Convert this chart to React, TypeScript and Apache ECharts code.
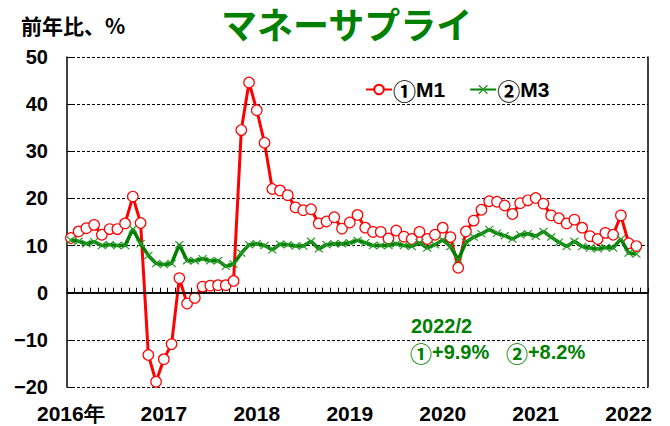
import React, { useEffect, useRef } from "react";
import * as echarts from "echarts";

const months: string[] = [];
for (let y = 2016; y <= 2022; y++) {
  for (let m = 1; m <= 12; m++) {
    if (y === 2022 && m > 3) break;
    months.push(`${y}/${m}`);
  }
}

const m1Values = [
  11.6, 13.0, 13.7, 14.4, 12.3, 13.5, 13.5, 14.7, 20.4, 14.8, -13.2, -18.9,
  -14.1, -10.9, 3.1, -2.3, -1.1, 1.3, 1.5, 1.6, 1.6, 2.5, 34.5, 44.6,
  38.7, 31.8, 22.0, 21.7, 20.7, 18.1, 17.5, 17.7, 14.7, 15.1, 16.0, 13.6,
  14.9, 16.5, 13.8, 12.9, 12.9, 11.5, 13.2, 11.9, 11.4, 12.9, 11.4, 12.3,
  13.8, 11.8, 5.3, 13.0, 15.3, 17.6, 19.4, 19.3, 18.5, 16.7, 19.0, 19.6,
  20.1, 18.9, 16.4, 15.8, 14.7, 15.5, 13.8, 12.0, 11.4, 12.7, 12.3, 16.4,
  10.5, 9.9,
];

const m3Values = [
  11.2, 10.9, 10.4, 10.8, 10.0, 10.2, 10.0, 10.0, 13.5, 10.4, 7.9, 6.2,
  6.0, 6.2, 10.2, 6.8, 6.8, 7.2, 6.8, 6.8, 5.6, 6.1, 8.4, 10.2,
  10.4, 10.0, 9.1, 10.3, 10.2, 9.9, 9.9, 10.9, 9.3, 10.2, 10.4, 10.4,
  10.6, 11.1, 10.6, 10.0, 10.0, 10.0, 10.4, 10.0, 9.8, 10.6, 9.5, 10.2,
  11.2, 9.8, 7.0, 10.7, 11.8, 12.5, 13.4, 12.6, 12.1, 11.4, 12.3, 12.5,
  12.0, 13.0, 11.8, 10.7, 9.8, 10.9, 9.8, 9.5, 9.3, 9.6, 9.5, 11.4,
  8.4, 8.2,
];

const seriesNames = ["①M1", "②M3"];
const titleText = "マネーサプライ";
const unitText = "前年比、%";
const noteDate = "2022/2";
const noteMarks = ["①", "②"];
const noteValues = ["+9.9%", "+8.2%"];

const FONT = "'Liberation Sans', Arial, sans-serif";
const CJK = "'Noto Sans CJK JP', sans-serif";
const GREEN = "#008000";
const X_SYMBOL =
  "path://M0,1L1,0L5,4L9,0L10,1L6,5L10,9L9,10L5,6L1,10L0,9L4,5Z";

const circRich = (color: string, size: number) => ({
  c: {
    fontFamily: CJK,
    fontWeight: "bold",
    fontSize: size,
    color,
  },
});

export default function App() {
  const ref = useRef<HTMLDivElement>(null);
  useEffect(() => {
    if (!ref.current) return;
    const chart = echarts.init(ref.current, null, { renderer: "svg" });
    chart.setOption({
      animation: false,
      backgroundColor: "#ffffff",
      grid: { left: 67, right: 22, top: 57, bottom: 39, containLabel: false },
      title: {
        text: titleText,
        left: 221,
        top: 1,
        padding: 0,
        textStyle: {
          fontFamily: CJK,
          fontWeight: "bold",
          fontSize: 36,
          color: GREEN,
          lineHeight: 44,
        },
      },
      graphic: [
        {
          type: "text",
          left: 21,
          top: 14,
          style: {
            text: unitText,
            font: `bold 21px ${CJK}`,
            fill: "#000",
          },
        },
        {
          type: "text",
          left: 411,
          top: 316,
          style: {
            text: noteDate,
            font: `bold 20px ${FONT}`,
            fill: GREEN,
          },
        },
        {
          type: "text",
          left: 410,
          top: 341,
          style: {
            text: `{c|${noteMarks[0]}}${noteValues[0]}   {c|${noteMarks[1]}}${noteValues[1]}`,
            font: `bold 20px ${FONT}`,
            fill: GREEN,
            rich: circRich(GREEN, 22),
          },
        },
      ],
      legend: {
        left: 360,
        top: 73,
        itemWidth: 26,
        itemHeight: 12,
        itemGap: 24,
        formatter: (name: string) => `{c|${name[0]}}${name.slice(1)}`,
        textStyle: {
          fontFamily: FONT,
          fontWeight: "bold",
          fontSize: 21,
          color: "#000",
          padding: [0, 0, 0, -4],
          rich: circRich("#000", 23),
        },
        data: seriesNames,
      },
      xAxis: {
        type: "category",
        data: months,
        boundaryGap: true,
        axisLine: { show: true, lineStyle: { color: "#000", width: 1.5 } },
        axisTick: {
          show: true,
          inside: true,
          length: 5,
          interval: 0,
          lineStyle: { color: "#000", width: 1 },
        },
        axisLabel: {
          interval: 0,
          margin: 16,
          fontFamily: FONT,
          fontWeight: "bold",
          fontSize: 21,
          color: "#000",
          formatter: (v: string, i: number) => {
            const [y, m] = v.split("/");
            if (m !== "1") return "";
            return i === 0 ? `${y}年` : y;
          },
        },
        splitLine: { show: false },
      },
      yAxis: [
        {
          type: "value",
          min: -20,
          max: 50,
          interval: 10,
          axisLine: { show: true, lineStyle: { color: "#000", width: 1.5 } },
          axisTick: { show: true, inside: true, length: 5, lineStyle: { color: "#000" } },
          axisLabel: {
            margin: 19,
            fontFamily: FONT,
            fontWeight: "bold",
            fontSize: 20,
            color: "#000",
            formatter: (v: number) => String(v).replace("-", "\u2212"),
          },
          splitLine: {
            show: true,
            lineStyle: { color: "#000", width: 1, type: [3, 2] },
          },
        },
        {
          type: "value",
          min: -20,
          max: 50,
          interval: 10,
          position: "right",
          axisLine: { show: true, lineStyle: { color: "#000", width: 1.5 } },
          axisTick: { show: false },
          axisLabel: { show: false },
          splitLine: { show: false },
        },
      ],
      series: [
        {
          name: seriesNames[0],
          type: "line",
          data: m1Values,
          z: 3,
          lineStyle: { color: "#ff0000", width: 3 },
          itemStyle: { color: "#ffffff", borderColor: "#ff0000", borderWidth: 1.2 },
          symbol: "circle",
          symbolSize: 10.5,
          showAllSymbol: true,
          markLine: {
            silent: true,
            symbol: "none",
            label: { show: false },
            lineStyle: { color: "#000", width: 1.5, type: "solid" },
            data: [{ yAxis: 0 }],
          },
        },
        {
          name: seriesNames[1],
          type: "line",
          data: m3Values,
          z: 4,
          lineStyle: { color: GREEN, width: 3.5 },
          itemStyle: { color: "#2a9a2a" },
          symbol: X_SYMBOL,
          symbolSize: [9, 8],
          showAllSymbol: true,
        },
      ],
    });
    return () => chart.dispose();
  }, []);
  return (
    <div
      ref={ref}
      style={{ position: "fixed", left: 0, top: 0, width: 670, height: 426 }}
    />
  );
}
